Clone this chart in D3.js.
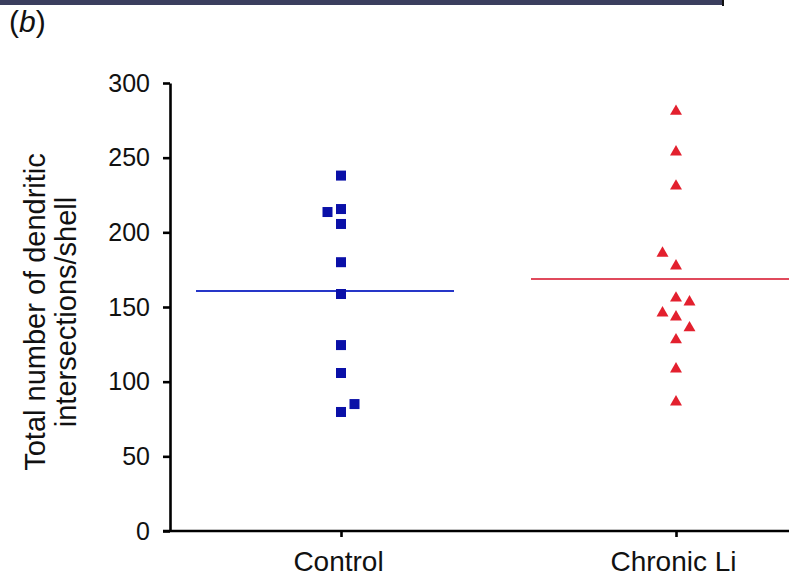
<!DOCTYPE html>
<html>
<head>
<meta charset="utf-8">
<script src="https://cdn.jsdelivr.net/npm/d3@7"></script>
<style>
    body { margin: 0; background: #fff; }
    svg { display: block; font-family: "Liberation Sans", Arial, sans-serif; }
</style>
</head>
<body>
<svg id="chart" width="789" height="583"></svg>
<script>
// Data
const categories = ["Control", "Chronic Li"]
const controlValues = [238, 213.6, 215.6, 205.6, 180, 158.7, 124.5, 105.8, 79.7, 85]
const controlJitter = [0, -1, 0, 0, 0, 0, 0, 0, 0, 1]
const lithiumValues = [281, 253.8, 231, 186, 177.5, 156, 153.4, 146, 143.3, 136, 128, 108.5, 86.4]
const lithiumJitter = [0, 0, 0, -1, 0, 0, 1, -1, 0, 1, 0, 0, 0]
const meanValues = [160.7, 168.8]
const yTicks = [0, 50, 100, 150, 200, 250, 300]

const config = {
    axisX: 170,
    axisY: 531,
    top: 83,
    right: 789,
    jitterStep: 13.5,
    blue: "#0a10a8",
    blueLine: "#2636c8",
    red: "#e3202e",
    redLine: "#e04a5c"
}

const svg = d3.select("#chart")

// header strip and panel label
svg.append("rect")
    .attr("x", 0).attr("y", 0)
    .attr("width", 722).attr("height", 5)
    .attr("fill", "#3b3e5e")
svg.append("rect")
    .attr("x", 722).attr("y", 0)
    .attr("width", 2).attr("height", 6)
    .attr("fill", "#111")

const panel = svg.append("text")
    .attr("x", 9).attr("y", 32)
    .style("font-size", "30px")
    .attr("fill", "#111")
panel.append("tspan").text("(")
panel.append("tspan").style("font-style", "italic").text("b")
panel.append("tspan").text(")")

const y = d3.scaleLinear().domain([0, 300]).range([config.axisY, config.top])
const x = d3.scalePoint().domain(categories).range([341, 676])

// y axis
const yAxis = d3.axisLeft(y)
    .tickValues(yTicks)
    .tickSize(7)
    .tickSizeOuter(0)
    .tickPadding(13)

const gy = svg.append("g")
    .attr("class", "y-axis")
    .attr("transform", "translate(" + config.axisX + ",0)")
    .call(yAxis)
gy.selectAll("path, line").attr("stroke", "#000").attr("stroke-width", 2.6)
gy.selectAll("text").style("font-size", "25px").attr("fill", "#111")

// x axis
const xAxis = d3.axisBottom(x)
    .tickSize(6)
    .tickSizeOuter(0)
    .tickPadding(14)

const gx = svg.append("g")
    .attr("class", "x-axis")
    .attr("transform", "translate(0," + config.axisY + ")")
    .call(xAxis)
gx.select(".domain").remove()
gx.append("line")
    .attr("x1", config.axisX - 7).attr("x2", config.right)
    .attr("stroke", "#000").attr("stroke-width", 2.6)
gx.selectAll("line").attr("stroke", "#000").attr("stroke-width", 2.6)
gx.selectAll("text").style("font-size", "28px").attr("fill", "#111")
    .attr("dx", "-3px")

// y title
const title = svg.append("text")
    .attr("transform", "translate(0,312) rotate(-90)")
    .attr("text-anchor", "middle")
    .style("font-size", "29px")
    .attr("fill", "#111")
title.append("tspan").attr("x", 0).attr("y", 45).text("Total number of dendritic")
title.append("tspan").attr("x", 0).attr("y", 76).text("intersections/shell")

// mean lines
const meanColors = [config.blueLine, config.redLine]
svg.append("g")
    .selectAll("line")
    .data(meanValues)
    .join("line")
    .attr("x1", (d, i) => x(categories[i]) - 145)
    .attr("x2", (d, i) => Math.min(x(categories[i]) + 113, config.right))
    .attr("y1", d => y(d))
    .attr("y2", d => y(d))
    .attr("stroke", (d, i) => meanColors[i])
    .attr("stroke-width", 2)

// control squares
const sq = 10
svg.append("g")
    .selectAll("rect")
    .data(controlValues)
    .join("rect")
    .attr("x", (d, i) => x(categories[0]) + controlJitter[i] * config.jitterStep - sq / 2)
    .attr("y", d => y(d) - sq / 2)
    .attr("width", sq)
    .attr("height", sq)
    .attr("fill", config.blue)

// lithium triangles
const tri = d3.symbol().type(d3.symbolTriangle).size(62)
svg.append("g")
    .selectAll("path")
    .data(lithiumValues)
    .join("path")
    .attr("d", tri)
    .attr("transform", (d, i) => "translate(" + (x(categories[1]) + lithiumJitter[i] * config.jitterStep) + "," + y(d) + ")")
    .attr("fill", config.red)
</script>
</body>
</html>
